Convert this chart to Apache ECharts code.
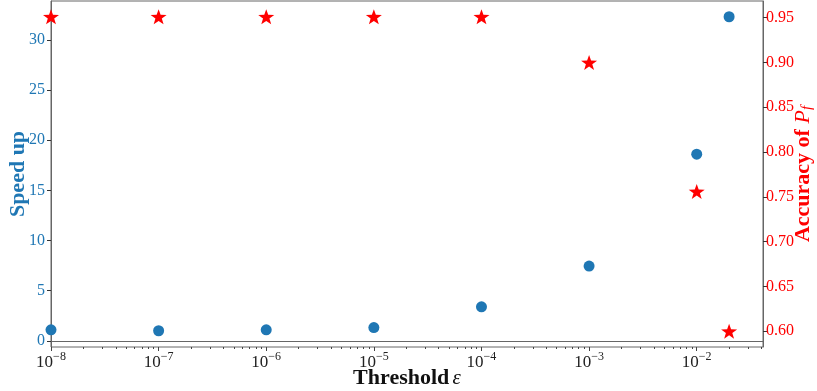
<!DOCTYPE html>
<html>
<head>
<meta charset="utf-8">
<script src="https://cdn.jsdelivr.net/npm/echarts@6/dist/echarts.min.js"></script>
<style>
html,body{margin:0;padding:0;background:#fff;}
#chart{width:817px;height:391px;}
</style>
</head>
<body>
<div id="chart"></div>
<script>
// ---- data ----
const thresholds = [1e-8, 1e-7, 1e-6, 1e-5, 1e-4, 1e-3, 1e-2, 2e-2];
const speedUp = [1.09, 1.0, 1.09, 1.32, 3.38, 7.45, 18.6, 32.3];
const accuracy = [0.951, 0.951, 0.951, 0.951, 0.951, 0.900, 0.756, 0.600];
const speedTicks = [0, 5, 10, 15, 20, 25, 30];
const accTicks = [0.60, 0.65, 0.70, 0.75, 0.80, 0.85, 0.90, 0.95];
const xMajorTicks = [1e-8, 1e-7, 1e-6, 1e-5, 1e-4, 1e-3, 1e-2];
const xMin = 1e-8, xMax = 0.0413;
const speedMin = -0.62, speedMax = 33.87;
const accMin = 0.5824, accMax = 0.9686;

// minor ticks (2..9 x 10^k)
const xMinorTicks = [];
for (let k = -8; k <= -2; k++) {
  for (let m = 2; m <= 9; m++) {
    const v = m * Math.pow(10, k);
    if (v <= xMax) xMinorTicks.push(v);
  }
}

const BLUE = '#1f77b4';
const RED = '#ff0000';
const FONT = 'Liberation Serif';
const STAR = 'path://M0,-10 L2.35,-3.24 L9.51,-3.09 L3.8,1.24 L5.88,8.09 L0,4 L-5.88,8.09 L-3.8,1.24 L-9.51,-3.09 L-2.35,-3.24 Z';

const chart = echarts.init(document.getElementById('chart'), null, {renderer: 'canvas'});
const logTickAxis = (vals, len) => ({
  type: 'value',
  min: Math.log10(xMin),
  max: Math.log10(xMax),
  position: 'bottom',
  axisLine: {show: false},
  axisLabel: {show: false},
  splitLine: {show: false},
  axisTick: {show: true, length: len, lineStyle: {color: '#444'}, customValues: vals.map(v => Math.log10(v))}
});
chart.setOption({
  animation: false,
  backgroundColor: '#fff',
  grid: {left: 51, right: 54, top: 1, bottom: 44, show: true, borderColor: '#666', borderWidth: 1,
         containLabel: false, outerBoundsMode: 'none'},
  xAxis: [{
    type: 'log',
    logBase: 10,
    min: xMin,
    max: xMax,
    position: 'bottom',
    name: '{b|Threshold} {e|\u03b5}',
    nameLocation: 'middle',
    nameGap: 20,
    nameMoveOverlap: false,
    nameTextStyle: {
      rich: {
        b: {fontFamily: FONT, fontWeight: 'bold', fontSize: 22, color: '#111'},
        e: {fontFamily: FONT, fontStyle: 'italic', fontSize: 21, color: '#111'}
      }
    },
    axisLine: {show: true, lineStyle: {color: '#666', width: 1}},
    axisTick: {show: false},
    splitLine: {show: false},
    axisLabel: {
      margin: 2,
      customValues: xMajorTicks,
      formatter: function (v) {
        const e = Math.log10(v);
        const r = Math.round(e);
        if (Math.abs(e - r) > 1e-6) return '';
        return '{b|10}{s|' + String(r).replace('-', '\u2212') + '}';
      },
      rich: {
        b: {fontFamily: FONT, fontSize: 17, color: '#222', padding: [5, 0, 0, 0]},
        s: {fontFamily: FONT, fontSize: 12, color: '#222', padding: [0, 0, 6, 0]}
      }
    }
  }, logTickAxis(xMajorTicks, 4), logTickAxis(xMinorTicks, 2)],
  yAxis: [{
    type: 'value',
    min: speedMin,
    max: speedMax,
    position: 'left',
    name: 'Speed up',
    nameLocation: 'middle',
    nameGap: 22,
    nameMoveOverlap: false,
    nameTextStyle: {fontFamily: FONT, fontWeight: 'bold', fontSize: 22, color: BLUE},
    axisLine: {show: true, lineStyle: {color: '#666', width: 1}},
    axisTick: {show: true, length: 4, lineStyle: {color: '#333'}, customValues: speedTicks},
    splitLine: {show: false},
    axisLabel: {
      customValues: speedTicks,
      margin: 6,
      fontFamily: FONT, fontSize: 16, color: BLUE
    }
  }, {
    type: 'value',
    min: accMin,
    max: accMax,
    position: 'right',
    name: '{b|Accuracy of }{i|P}{s|f}',
    nameLocation: 'middle',
    nameGap: 29,
    nameMoveOverlap: false,
    nameTextStyle: {
      rich: {
        b: {fontFamily: FONT, fontWeight: 'bold', fontSize: 22, color: RED},
        i: {fontFamily: FONT, fontStyle: 'italic', fontSize: 22, color: RED},
        s: {fontFamily: FONT, fontStyle: 'italic', fontSize: 15, color: RED, padding: [8, 0, 0, 0]}
      }
    },
    axisLine: {show: true, lineStyle: {color: '#666', width: 1}},
    axisTick: {show: true, length: 4, lineStyle: {color: '#333'}, customValues: accTicks},
    splitLine: {show: false},
    axisLabel: {
      customValues: accTicks,
      margin: 3,
      fontFamily: FONT, fontSize: 16, color: RED,
      formatter: v => v.toFixed(2)
    }
  }],
  series: [{
    type: 'scatter',
    xAxisIndex: 0,
    yAxisIndex: 0,
    symbol: 'circle',
    symbolSize: 11,
    clip: true,
    itemStyle: {color: BLUE, opacity: 1},
    data: thresholds.map((t, i) => [t, speedUp[i]])
  }, {
    type: 'scatter',
    xAxisIndex: 0,
    yAxisIndex: 1,
    symbol: STAR,
    symbolSize: [16, 15],
    clip: true,
    itemStyle: {color: RED, opacity: 1},
    data: thresholds.map((t, i) => [t, accuracy[i]])
  }]
});
</script>
</body>
</html>
